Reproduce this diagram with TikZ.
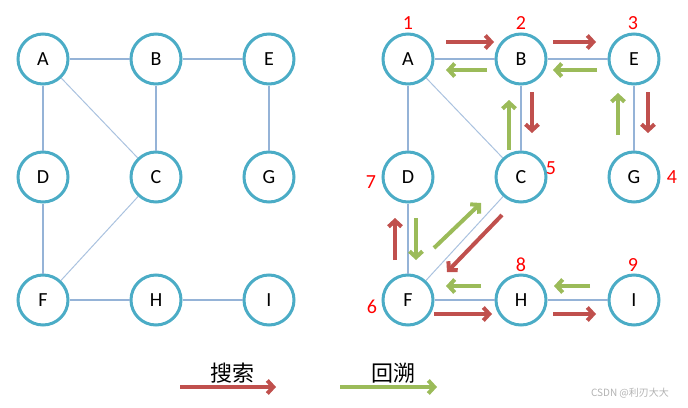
\documentclass[tikz,border=0pt]{standalone}
\usepackage{fontspec}
\setmainfont{Carlito}
\newfontfamily\cjk{Noto Sans CJK SC}
\usepackage{xcolor}
\usepackage{tikz}
\usetikzlibrary{arrows.meta}
\definecolor{ringblue}{HTML}{4BACC6}
\definecolor{edgeblue}{HTML}{95B3D7}
\definecolor{searchred}{HTML}{C0504D}
\definecolor{backgreen}{HTML}{9BBB59}
\begin{document}
\begin{tikzpicture}[x=1pt,y=-1pt,
    vertex/.style={circle,draw=ringblue,line width=3pt,minimum size=50pt,inner sep=0pt,
      font=\fontsize{20}{22}\selectfont},
    edge/.style={edgeblue,line width=1.5pt},
    diag/.style={edgeblue!80,line width=1pt},
    order/.style={text=red,font=\fontsize{20}{22}\selectfont},
    search/.style={searchred,line width=4pt,-{Straight Barb[length=6pt,width=13pt]}},
    back/.style={backgreen,line width=4pt,-{Straight Barb[length=6pt,width=13pt]}}]
    \useasboundingbox (0,0) rectangle (688,407);
    % the two graphs, left plain and right with the walk
    \foreach \n/\x/\y in {A/43/59,B/156/59,E/269/59,D/43/177,C/156/177,G/269/177,F/43/300,H/156/300,I/269/300}{
      \node[vertex] (l\n) at (\x,\y) {\n};
      \node[vertex] (r\n) at (\x+365,\y) {\n};
    }
    \foreach \g in {l,r}{
      \foreach \a/\b in {A/B,B/E,A/D,B/C,E/G,D/F,F/H,H/I}
        \draw[edge] (\g\a) -- (\g\b);
      \draw[diag] (\g A) -- (\g C);
      \draw[diag] (\g C) -- (\g F);
    }
    % visiting order
    \node[order] (n1) at (408,23) {1};
    \node[order] (n2) at (521,23) {2};
    \node[order] (n3) at (633,23) {3};
    \node[order] (n4) at (672,177) {4};
    \node[order] (n5) at (551,168) {5};
    \node[order] (n6) at (372,307) {6};
    \node[order] (n7) at (371,182) {7};
    \node[order] (n8) at (521,265) {8};
    \node[order] (n9) at (633,265) {9};
    % search steps
    \draw[search] ([shift={(38,-17)}]rA.center) -- ([shift={(-27,-17)}]rB.center);
    \draw[search] ([shift={(32,-17)}]rB.center) -- ([shift={(-38,-17)}]rE.center);
    \draw[search] ([shift={(11,33)}]rB.center) -- ([shift={(11,-44)}]rC.center);
    \draw[search] ([shift={(14,33)}]rE.center) -- ([shift={(14,-44)}]rG.center);
    \draw[search] ([shift={(-19,38)}]rC.center) -- ([shift={(39,-28)}]rF.center);
    \draw[search] ([shift={(-13,-40)}]rF.center) -- ([shift={(-13,41)}]rD.center);
    \draw[search] ([shift={(26,14)}]rF.center) -- ([shift={(-29,14)}]rH.center);
    \draw[search] ([shift={(32,14)}]rH.center) -- ([shift={(-38,14)}]rI.center);
    % backtracking steps
    \draw[back] ([shift={(-34,11)}]rB.center) -- ([shift={(38,11)}]rA.center);
    \draw[back] ([shift={(-37,11)}]rE.center) -- ([shift={(32,11)}]rB.center);
    \draw[back] ([shift={(-12,-27)}]rC.center) -- ([shift={(-12,41)}]rB.center);
    \draw[back] ([shift={(-16,-42)}]rG.center) -- ([shift={(-16,34)}]rE.center);
    \draw[back] ([shift={(26,-52)}]rF.center) -- ([shift={(-40,26)}]rC.center);
    \draw[back] ([shift={(8,41)}]rD.center) -- ([shift={(8,-40)}]rF.center);
    \draw[back] ([shift={(-40,-14)}]rH.center) -- ([shift={(38,-14)}]rF.center);
    \draw[back] ([shift={(-44,-14)}]rI.center) -- ([shift={(33,-14)}]rH.center);
    % legend
    \coordinate (s0) at (180,387);
    \coordinate (s1) at (276,387);
    \coordinate (b0) at (340,387);
    \coordinate (b1) at (437,387);
    \draw[search] (s0) -- (s1);
    \draw[back] (b0) -- (b1);
    \node[font=\cjk\fontsize{22}{24}\selectfont] (searchtext) at (232,373) {搜索};
    \node[font=\cjk\fontsize{22}{24}\selectfont] (backtext) at (393,373) {回溯};
    \node[font=\cjk\fontsize{10}{12}\selectfont,text=black!30] (mark) at (630,393) {CSDN @利刃大大};
  \end{tikzpicture}
\end{document}
